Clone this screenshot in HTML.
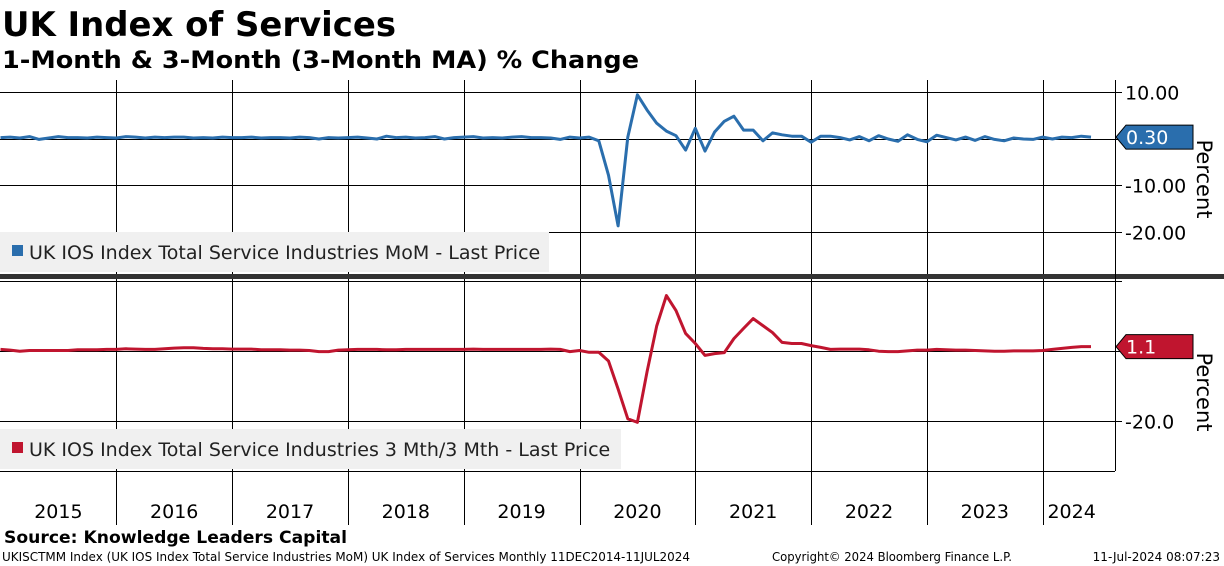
<!DOCTYPE html>
<html><head><meta charset="utf-8"><style>
body{margin:0;background:#fff;font-family:"DejaVu Sans","Liberation Sans",sans-serif;}
svg{display:block;font-family:"DejaVu Sans","Liberation Sans",sans-serif}
</style></head><body>
<svg id="c" width="1224" height="566" xmlns="http://www.w3.org/2000/svg">
<text x="2" y="36" font-size="34" font-weight="bold" textLength="394" lengthAdjust="spacingAndGlyphs">UK Index of Services</text>
<text x="2" y="68" font-size="24" font-weight="bold" textLength="637" lengthAdjust="spacingAndGlyphs">1-Month &amp; 3-Month (3-Month MA) % Change</text>
<g id="grid"></g>
<rect x="0" y="232" width="549" height="40" fill="#f0f0f0"/>
<rect x="12" y="245" width="11" height="11" fill="#2a6ead"/>
<text x="29" y="259" font-size="19" fill="#222">UK IOS Index Total Service Industries MoM - Last Price</text>
<rect x="0" y="429" width="621" height="40" fill="#f0f0f0"/>
<rect x="12" y="442" width="11" height="11" fill="#c0152f"/>
<text x="29" y="456" font-size="19" fill="#222">UK IOS Index Total Service Industries 3 Mth/3 Mth - Last Price</text>
<g id="series"></g>
<rect x="0" y="274" width="1224" height="5" fill="#333"/>
<line x1="1115.5" y1="80" x2="1115.5" y2="471" stroke="#000"/>
<line x1="0" y1="471.5" x2="1115" y2="471.5" stroke="#000"/>
<text x="1197" y="179" font-size="21" transform="rotate(90 1197 179)" text-anchor="middle">Percent</text>
<text x="1197" y="392" font-size="21" transform="rotate(90 1197 392)" text-anchor="middle">Percent</text>
<text x="4" y="543" font-size="17" font-weight="bold" textLength="343" lengthAdjust="spacingAndGlyphs">Source: Knowledge Leaders Capital</text>
<text x="2" y="561" font-size="12" textLength="688" lengthAdjust="spacingAndGlyphs">UKISCTMM Index (UK IOS Index Total Service Industries MoM) UK Index of Services  Monthly 11DEC2014-11JUL2024</text>
<text x="772" y="561" font-size="12" textLength="240" lengthAdjust="spacingAndGlyphs">Copyright© 2024 Bloomberg Finance L.P.</text>
<text x="1220" y="561" font-size="12" text-anchor="end">11-Jul-2024 08:07:23</text>
</svg>
<script>
const years=["2015","2016","2017","2018","2019","2020","2021","2022","2023","2024"];
const topTicks=[10,0,-10,-20];
const topTickLabels=["10.00","","-10.00","-20.00"];
const botTicks=[20,0,-20];
const botTickLabels=["","","-20.0"];
// Dec 2014 .. May 2024 monthly
const momValues=[0.2,
0.3,0.1,0.4,-0.2,0.1,0.4,0.2,0.2,0.1,0.3,0.2,0.1,
0.4,0.3,0.1,0.3,0.2,0.3,0.3,0.1,0.2,0.1,0.3,0.2,
0.2,0.3,0.1,0.2,0.2,0.1,0.3,0.2,-0.1,0.2,0.1,0.2,
0.3,0.1,-0.1,0.5,0.2,0.3,0.1,0.2,0.4,-0.1,0.2,0.3,
0.4,0.1,0.2,0.1,0.3,0.4,0.2,0.2,0.1,-0.2,0.3,0.1,
0.3,-0.5,-7.9,-18.8,0.3,9.4,6.1,3.3,1.6,0.6,-2.5,2.2,
-2.7,1.4,3.7,4.8,1.8,1.8,-0.5,1.2,0.8,0.5,0.5,-0.8,
0.5,0.5,0.2,-0.3,0.4,-0.5,0.6,-0.1,-0.6,0.8,-0.2,-0.7,
0.7,0.2,-0.3,0.3,-0.4,0.4,-0.2,-0.5,0.1,-0.1,-0.2,0.3,
-0.1,0.3,0.2,0.5,0.3];
const threeMValues=[0.3,
0.1,-0.2,0.0,0.0,0.0,0.0,0.0,0.2,0.2,0.2,0.3,0.3,
0.5,0.4,0.3,0.3,0.5,0.7,0.8,0.8,0.6,0.5,0.5,0.4,
0.4,0.4,0.2,0.2,0.2,0.1,0.1,0.0,-0.3,-0.3,0.1,0.2,
0.3,0.3,0.3,0.2,0.2,0.3,0.3,0.3,0.3,0.3,0.3,0.3,
0.4,0.3,0.3,0.3,0.3,0.3,0.3,0.3,0.4,0.3,-0.3,0.0,
-0.5,-0.5,-3.0,-11.0,-19.5,-20.5,-6.0,7.0,15.7,11.4,4.9,2.0,
-1.4,-0.9,-0.6,3.4,6.3,9.1,7.1,5.1,2.3,2.0,2.0,1.4,
0.9,0.3,0.4,0.4,0.4,0.2,-0.2,-0.3,-0.3,-0.1,0.1,0.1,
0.3,0.2,0.1,0.1,0.0,-0.1,-0.2,-0.2,-0.1,-0.1,-0.1,0.0,
0.3,0.6,0.9,1.1,1.1];
const NS="http://www.w3.org/2000/svg";
const X0=0.5, MW=9.65;
function xm(i){return X0+MW*i;} // i=0 is Dec 2014
function yTop(v){return 138.5-v*4.65;}
function yBot(v){return 350.5-v*3.5;}
const grid=document.getElementById('grid'), ser=document.getElementById('series'), svg=document.getElementById('c');
function mk(tag,attrs,parent){const e=document.createElementNS(NS,tag);for(const k in attrs)e.setAttribute(k,attrs[k]);parent.appendChild(e);return e;}
years.forEach((y,k)=>{
  const x=Math.round(X0+MW*12*k)+0.5;
  if(k>0){const l=mk('line',{x1:x,y1:80,x2:x,y2:525,stroke:'#000'},grid);
  
  }
  const t=mk('text',{x:X0+MW*12*k+(k==9?MW*3:MW*6),y:518,'font-size':19,'text-anchor':'middle'},svg);
  t.textContent=y;
  
  
});
topTicks.forEach((v,k)=>{
  const y=Math.round(yTop(v))+0.5;
  const l=mk('line',{x1:0,y1:y,x2:1122,y2:y,stroke:'#000'},grid);
  
  
  if(topTickLabels[k]){const t=mk('text',{x:1125,y:y+7,'font-size':19},svg);t.textContent=topTickLabels[k];
  
  }
});
botTicks.forEach((v,k)=>{
  const y=Math.round(yBot(v))+0.5;
  const l=mk('line',{x1:0,y1:y,x2:1122,y2:y,stroke:'#000'},grid);
  
  
  if(botTickLabels[k]){const t=mk('text',{x:1125,y:y+7,'font-size':19},svg);t.textContent=botTickLabels[k];
  
  }
});
function line(vals,yf,color,name){
  const p=vals.map((v,i)=>xm(i).toFixed(1)+','+yf(v).toFixed(1)).join(' ');
  const pl=mk('polyline',{points:p,fill:'none',stroke:color,'stroke-width':3,'stroke-linejoin':'round'},ser);
  
  
}
line(momValues,yTop,'#2a6ead','mom-series-line');
line(threeMValues,yBot,'#c0152f','three-month-series-line');
function badge(v,yf,color,txt,name){
  const y=yf(v);
  const pg=mk('polygon',{points:`1116,${y} 1126,${y-12} 1193,${y-12} 1193,${y+12} 1126,${y+12}`,fill:color,stroke:'#000'},svg);
  
  
  const t=mk('text',{x:1126,y:y+7,'font-size':19,fill:'#fff'},svg);t.textContent=txt;
  
  
}
badge(momValues[momValues.length-1],yTop,'#2a6ead',momValues[momValues.length-1].toFixed(2),'last-value-top');
badge(threeMValues[threeMValues.length-1],yBot,'#c0152f',threeMValues[threeMValues.length-1].toFixed(1),'last-value-bottom');
</script>
</body></html>
